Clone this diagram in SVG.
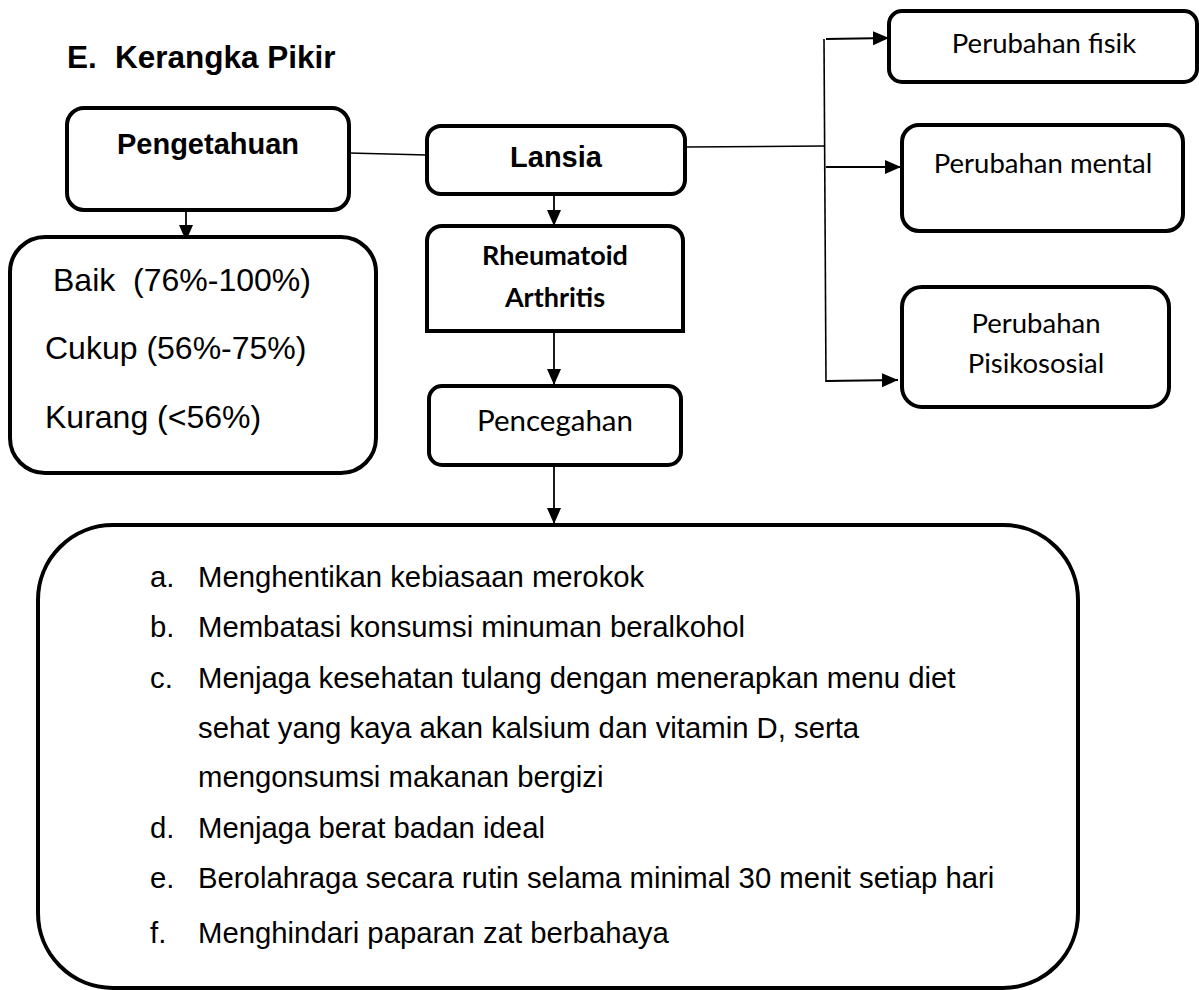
<svg xmlns="http://www.w3.org/2000/svg" width="1199" height="990" viewBox="0 0 1199 990">
<style>
.box{fill:#fff;stroke:#000;stroke-width:4}
.ln{fill:none;stroke:#000;stroke-width:1.6}
.ar{fill:none;stroke:#000;stroke-width:1.8}
.ab{font-family:"Liberation Sans",Arial,sans-serif;font-weight:bold;fill:#000}
.a{font-family:"Liberation Sans",Arial,sans-serif;fill:#000}
.c{font-family:Lato,"Open Sans",sans-serif;fill:#000}
.cb{font-family:Lato,"Open Sans",sans-serif;font-weight:bold;fill:#000}
</style>
<defs>
<marker id="ah" markerUnits="userSpaceOnUse" markerWidth="16" markerHeight="16" viewBox="0 0 16 16" refX="16" refY="8" orient="auto">
<path d="M0,1 L16,8 L0,15 Z" fill="#000"/>
</marker>
</defs>
<rect width="1199" height="990" fill="#fff"/>
<text class="ab" x="67" y="68" font-size="31.5">E.<tspan x="115">Kerangka Pikir</tspan></text>

<g id="connectors">
<line class="ln" x1="349" y1="153" x2="427" y2="155"/>
<line class="ln" x1="685" y1="147" x2="824" y2="146"/>
<line class="ln" x1="824" y1="39" x2="826" y2="382"/>
<line class="ar" x1="826" y1="39" x2="889" y2="38" marker-end="url(#ah)"/>
<line class="ar" x1="826" y1="167" x2="901" y2="167" marker-end="url(#ah)"/>
<line class="ar" x1="826" y1="381" x2="898" y2="380" marker-end="url(#ah)"/>
<line class="ar" x1="186" y1="191" x2="186" y2="241" marker-end="url(#ah)"/>
<line class="ar" x1="554" y1="182" x2="554" y2="226" marker-end="url(#ah)"/>
<line class="ar" x1="554" y1="333" x2="554" y2="385" marker-end="url(#ah)"/>
<line class="ar" x1="554" y1="467" x2="554" y2="524" marker-end="url(#ah)"/>
</g>

<g id="pengetahuan">
<rect class="box" x="67" y="108" width="282" height="102" rx="17"/>
<text class="ab" x="208" y="154" font-size="29" text-anchor="middle">Pengetahuan</text>
</g>

<g id="lansia">
<rect class="box" x="427" y="126" width="258" height="68" rx="14"/>
<text class="ab" x="556" y="167" font-size="29" text-anchor="middle">Lansia</text>
</g>

<g id="kategori">
<rect class="box" x="10" y="237" width="366" height="236" rx="35"/>
<text class="a" x="53" y="291" font-size="32" xml:space="preserve">Baik  (76%-100%)</text>
<text class="a" x="45" y="359" font-size="32">Cukup (56%-75%)</text>
<text class="a" x="45" y="428" font-size="32">Kurang (&lt;56%)</text>
</g>

<g id="rheumatoid">
<path class="box" stroke-width="5" d="M427,331 L427,241 A15,15 0 0 1 442,226 L668,226 A15,15 0 0 1 683,241 L683,331 Z"/>
<text class="cb" x="555" y="265" font-size="27" text-anchor="middle">Rheumatoid</text>
<text class="cb" x="555" y="307" font-size="27" text-anchor="middle">Arthritis</text>
</g>

<g id="pencegahan">
<rect class="box" x="429" y="386" width="252" height="79" rx="13"/>
<text class="c" x="555" y="431" font-size="29.5" text-anchor="middle">Pencegahan</text>
</g>

<g id="fisik">
<rect class="box" x="889" y="11" width="308" height="71" rx="13"/>
<text class="c" x="1044" y="53" font-size="27.5" text-anchor="middle">Perubahan fisik</text>
</g>

<g id="mental">
<rect class="box" x="902" y="125" width="281" height="106" rx="17"/>
<text class="c" x="1043" y="173" font-size="27.5" text-anchor="middle">Perubahan mental</text>
</g>

<g id="psikososial">
<rect class="box" x="902" y="287" width="267" height="120" rx="20"/>
<text class="c" x="1036" y="333" font-size="27.5" text-anchor="middle">Perubahan</text>
<text class="c" x="1036" y="373" font-size="27.5" text-anchor="middle">Pisikososial</text>
</g>

<g id="pencegahan-list">
<rect class="box" x="38" y="525" width="1040" height="463" rx="75"/>
<g class="a" font-size="29.3">
<text x="150" y="587">a.</text><text x="198" y="587">Menghentikan kebiasaan merokok</text>
<text x="150" y="637">b.</text><text x="198" y="637">Membatasi konsumsi minuman beralkohol</text>
<text x="150" y="688">c.</text><text x="198" y="688">Menjaga kesehatan tulang dengan menerapkan menu diet</text>
<text x="198" y="738">sehat yang kaya akan kalsium dan vitamin D, serta</text>
<text x="198" y="787">mengonsumsi makanan bergizi</text>
<text x="150" y="838">d.</text><text x="198" y="838">Menjaga berat badan ideal</text>
<text x="150" y="888">e.</text><text x="198" y="888">Berolahraga secara rutin selama minimal 30 menit setiap hari</text>
<text x="150" y="943">f.</text><text x="198" y="943">Menghindari paparan zat berbahaya</text>
</g>
</g>
</svg>
